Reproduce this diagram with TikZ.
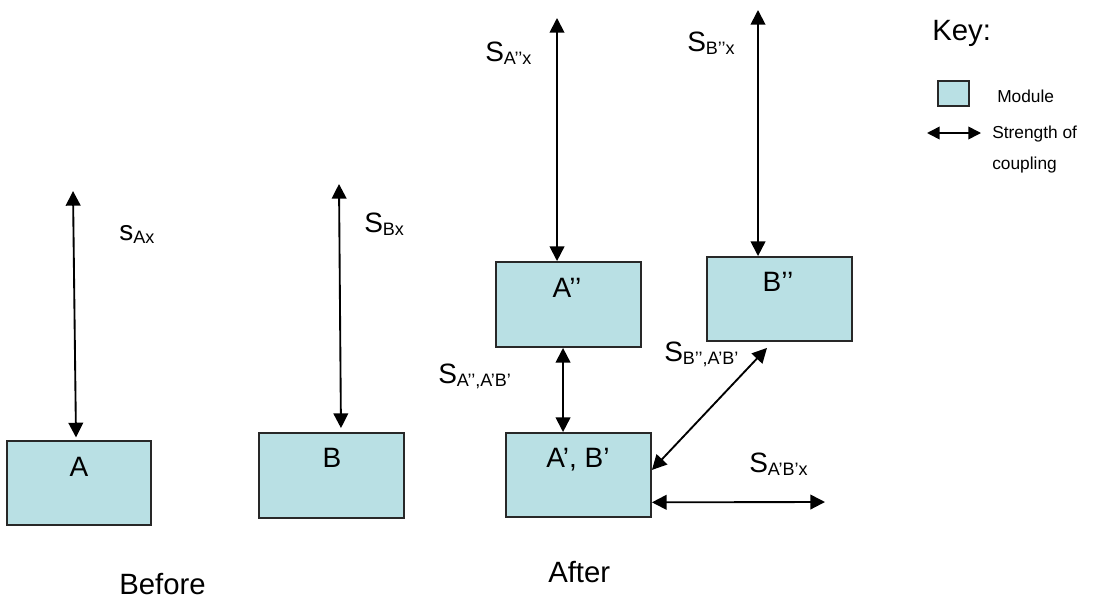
\documentclass[tikz,border=0pt]{standalone}
\usepackage{fontspec}
\setmainfont{Liberation Sans}
\usetikzlibrary{arrows.meta}
\definecolor{modfill}{RGB}{185,224,228}
\definecolor{modline}{RGB}{40,40,40}
\newcommand{\sbs}[1]{\raisebox{-2.6pt}{\fontsize{13.5}{16}\selectfont #1}}
\tikzset{
  module/.style={draw=modline, line width=1.4pt, fill=modfill, inner sep=0pt},
  big/.style={font=\fontsize{21}{25}\selectfont, inner sep=0pt},
  lab/.style={font=\fontsize{21}{25}\selectfont, inner sep=0pt, anchor=base west},
  small/.style={font=\fontsize{13}{16}\selectfont, inner sep=0pt, anchor=base west},
  cpl/.style={line width=1.4pt, {Triangle[length=11pt,width=11pt]}-{Triangle[length=11pt,width=11pt]}},
  keycpl/.style={line width=1.2pt, {Triangle[length=9.5pt,width=9.5pt]}-{Triangle[length=9.5pt,width=9.5pt]}}
}
\begin{document}
\begin{tikzpicture}[x=0.75pt,y=-0.75pt]
\useasboundingbox[fill=white] (0,0) rectangle (1099,600);
% modules
\node[module, minimum width=108pt, minimum height=63pt] (A) at (79,483) {};
\node[module, minimum width=108.75pt, minimum height=63.75pt] (B) at (331.5,475.5) {};
\node[module, minimum width=108.75pt, minimum height=63.75pt] (App) at (568.5,304.5) {};
\node[module, minimum width=108.75pt, minimum height=63pt] (Bpp) at (779.5,299) {};
\node[module, minimum width=108.75pt, minimum height=63pt] (ApBp) at (578.5,475) {};
% module texts
\node[big] (tA) at (79,467) {A};
\node[big] (tB) at (332,458) {B};
\node[big] (tApp) at (567,288) {A’’};
\node[big] (tBpp) at (778,282) {B’’};
\node[big] (tApBp) at (578,460) {A’, B’};
% free ends
\coordinate (Atop) at (73,191);
\coordinate (Btop) at (339,184);
\coordinate (Apptop) at (557,18);
\coordinate (Bpptop) at (758,10);
\coordinate (ApBpx) at (825,502);
% connectors
\draw[cpl] (Atop) -- ([xshift=-2.25pt,yshift=2pt]A.north);
\draw[cpl] (Btop) -- ([xshift=7.1pt,yshift=3pt]B.north);
\draw[cpl] (Apptop) -- ([xshift=-8.6pt]App.north);
\draw[cpl] (Bpptop) -- ([xshift=-16.1pt]Bpp.north);
\draw[cpl] ([xshift=-4.1pt]App.south) -- ([xshift=-11.6pt]ApBp.north);
\draw[cpl] ([xshift=-9.4pt,yshift=-4.5pt]Bpp.south) -- ([yshift=3.8pt]ApBp.east);
\draw[cpl] ([yshift=-20.5pt]ApBp.east) -- (ApBpx);
% labels
\node[lab] (lAx) at (119,240) {s\sbs{Ax}};
\node[lab] (lBx) at (364,232) {S\sbs{Bx}};
\node[lab] (lAppx) at (485,61) {S\sbs{A’’x}};
\node[lab] (lBppx) at (687,51) {S\sbs{B’’x}};
\node[lab] (lAppApBp) at (438,383) {S\sbs{A’’,A’B’}};
\node[lab] (lBppApBp) at (664,361) {S\sbs{B’’,A’B’}};
\node[lab] (lApBpx) at (749,472) {S\sbs{A’B’x}};
\node[lab, font=\fontsize{22}{26}\selectfont] (before) at (119,594) {Before};
\node[lab, font=\fontsize{22}{26}\selectfont] (after) at (548,582) {After};
% key
\node[lab, font=\fontsize{22}{26}\selectfont] (key) at (932,40) {Key:};
\node[module, line width=1.2pt, minimum width=23.25pt, minimum height=18.75pt] (keymod) at (953.5,93.5) {};
\node[small] (keymodtxt) at (997,102) {Module};
\coordinate (kl) at (927,133);
\coordinate (kr) at (981,133);
\draw[keycpl] (kl) -- (kr);
\node[small] (keycpl1) at (992,138) {Strength of};
\node[small] (keycpl2) at (992,169) {coupling};
\end{tikzpicture}
\end{document}
